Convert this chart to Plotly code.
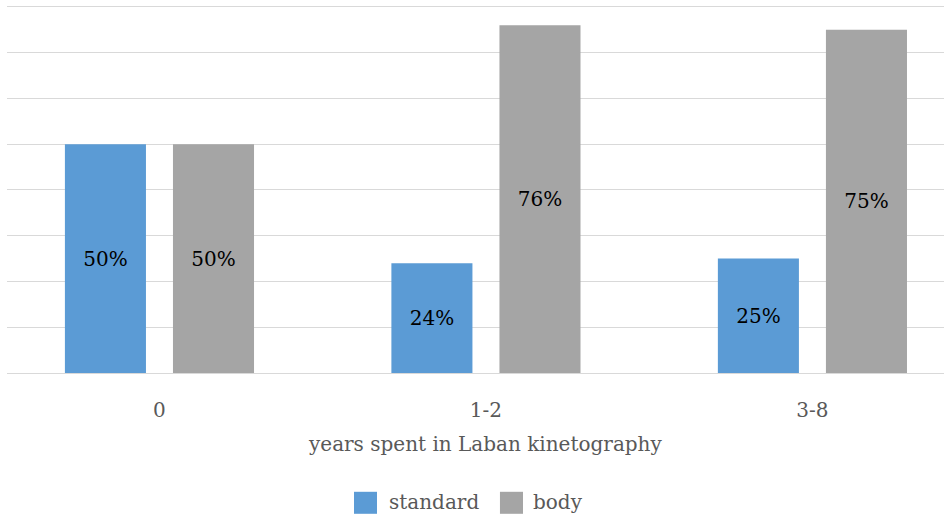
import plotly.graph_objects as go

# Share of participants per notation preference, grouped by experience
categories = ["0", "1-2", "3-8"]
standard = [0.50, 0.24, 0.25]
body = [0.50, 0.76, 0.75]
series_names = ["standard", "body"]
colors = ["#5B9BD5", "#A5A5A5"]

FONT = "DejaVu Serif"
GREY_TEXT = "#595959"

fig = go.Figure()
for name, vals, col in zip(series_names, [standard, body], colors):
    fig.add_trace(go.Bar(
        x=categories,
        y=vals,
        name=name,
        marker=dict(color=col, line=dict(width=0)),
        text=[f"{v:.0%}" for v in vals],
        textposition="inside",
        insidetextanchor="middle",
        textfont=dict(family=FONT, size=20, color="#000000"),
        insidetextfont=dict(family=FONT, size=20, color="#000000"),
        textangle=0,
        showlegend=False,
    ))

fig.update_layout(
    width=944,
    height=519,
    margin=dict(l=7, r=0, t=2, b=146),
    paper_bgcolor="white",
    plot_bgcolor="white",
    barmode="group",
    bargap=0.338,
    bargroupgap=0.25,
    font=dict(family=FONT, color=GREY_TEXT, size=20),
    uniformtext=dict(mode=False),
)

fig.update_xaxes(
    type="category",
    range=[-0.467, 2.403],
    showgrid=False,
    showline=False,
    zeroline=False,
    ticks="outside",
    ticklen=19,
    tickcolor="rgba(0,0,0,0)",
    tickfont=dict(family=FONT, size=20, color=GREY_TEXT),
)

fig.update_yaxes(
    range=[0, 0.8109],
    tickvals=[0.1, 0.2, 0.3, 0.4, 0.5, 0.6, 0.7, 0.8],
    showgrid=True,
    gridcolor="#D9D9D9",
    gridwidth=1.3,
    zeroline=True,
    zerolinecolor="#D9D9D9",
    zerolinewidth=1.3,
    showticklabels=False,
    showline=False,
)

# Axis title
fig.add_annotation(
    text="years spent in Laban kinetography",
    xref="paper", yref="paper",
    x=0.511, y=-0.192,
    xanchor="center", yanchor="middle",
    showarrow=False,
    font=dict(family=FONT, size=20, color=GREY_TEXT),
)

# Legend drawn as swatches with labels below the chart
legend_items = [
    (0.3703, 0.3949, 0.4055, series_names[0], colors[0]),
    (0.5261, 0.5507, 0.5592, series_names[1], colors[1]),
]
for x0, x1, xt, label, col in legend_items:
    fig.add_shape(
        type="rect", xref="paper", yref="paper",
        x0=x0, x1=x1, y0=-0.3795, y1=-0.3202,
        fillcolor=col, line=dict(width=0),
    )
    fig.add_annotation(
        text=label,
        xref="paper", yref="paper",
        x=xt, y=-0.3477,
        xanchor="left", yanchor="middle",
        showarrow=False,
        font=dict(family=FONT, size=20, color=GREY_TEXT),
    )

fig.write_html("out.html")
